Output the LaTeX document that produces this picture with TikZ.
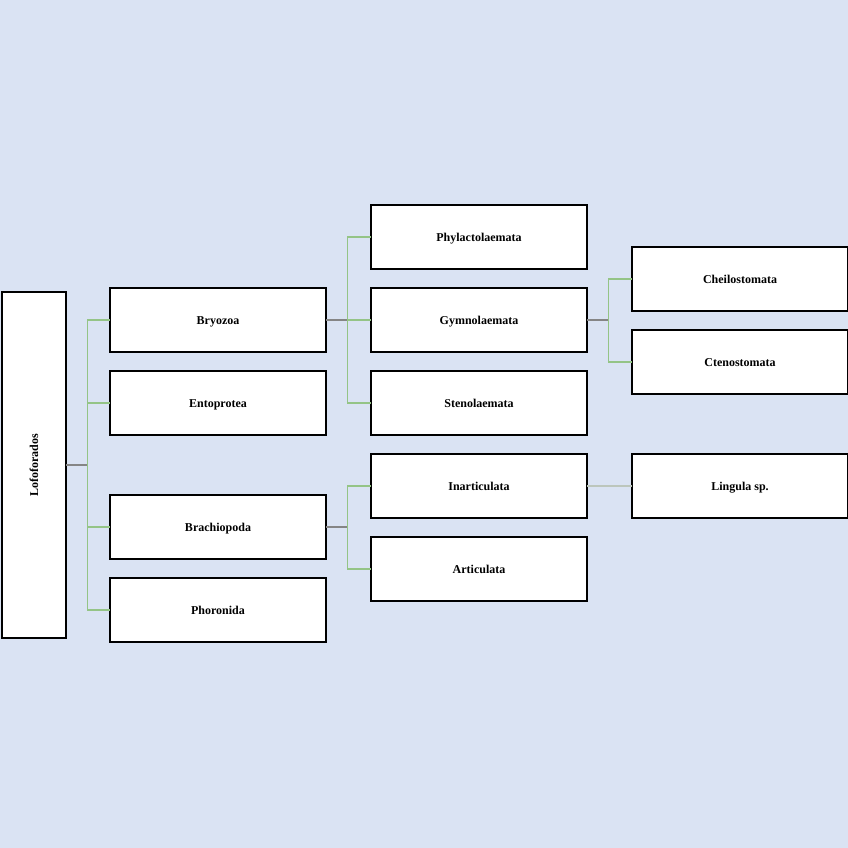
\documentclass[tikz,border=0pt]{standalone}
\usepackage{fontspec}
\setmainfont{Liberation Serif}
\usepackage{xcolor}
\usepackage{tikz}
\usetikzlibrary{positioning}
\definecolor{bgblue}{HTML}{DAE3F3}
\definecolor{lnkgreen}{HTML}{94C486}
\definecolor{lnkgrey}{HTML}{858585}
\definecolor{lnklight}{HTML}{BCC6BC}

\begin{document}
\begin{tikzpicture}[
  font=\bfseries\fontsize{12pt}{14pt}\selectfont,
  frame/.style={draw=black, line width=1.8pt, fill=white, inner sep=0pt, outer sep=0pt, align=center},
  box/.style={frame, minimum width=216.2pt, minimum height=64.2pt, text height=8pt, text depth=0pt},
  rootbox/.style={frame, minimum width=64.2pt, minimum height=346.2pt},
  stub/.style={draw=lnkgrey, line width=1.1pt},
  branch/.style={draw=lnkgreen, line width=1.1pt},
  plain/.style={draw=lnklight, line width=1.5pt},
]
\fill[bgblue] (0pt,0pt) rectangle (848pt,-848pt);
\useasboundingbox (0pt,0pt) rectangle (848pt,-848pt);
% level 0
\node[rootbox] (lofo) at (34pt,-465pt) {\rotatebox{90}{Lofoforados}};
% level 1
\node[box, right=43.8pt of lofo, yshift=145pt] (bry) {Bryozoa};
\node[box, below=18.8pt of bry] (ent) {Entoprotea};
\node[box, below=59.8pt of ent] (bra) {Brachiopoda};
\node[box, below=18.8pt of bra] (pho) {Phoronida};
% level 2
\node[box, right=44.8pt of bry] (gym) {Gymnolaemata};
\node[box, above=18.8pt of gym] (phy) {Phylactolaemata};
\node[box, below=18.8pt of gym] (ste) {Stenolaemata};
\node[box, right=44.8pt of bra, yshift=41pt] (ina) {Inarticulata};
\node[box, below=18.8pt of ina] (art) {Articulata};
% level 3
\node[box, right=44.8pt of gym, yshift=41pt] (che) {Cheilostomata};
\node[box, below=18.8pt of che] (cte) {Ctenostomata};
\node[box, right=44.8pt of ina] (lin) {Lingula sp.};
% connectors
\draw[stub] (lofo.east) -- ++(21pt,0) coordinate (j0);
\foreach \c in {bry,ent,bra,pho} \draw[branch] (\c.west) -| (j0);
\draw[stub] (bry.east) -- ++(21pt,0) coordinate (j1);
\foreach \c in {phy,gym,ste} \draw[branch] (\c.west) -| (j1);
\draw[stub] (bra.east) -- ++(21pt,0) coordinate (j2);
\foreach \c in {ina,art} \draw[branch] (\c.west) -| (j2);
\draw[stub] (gym.east) -- ++(21pt,0) coordinate (j3);
\foreach \c in {che,cte} \draw[branch] (\c.west) -| (j3);
\draw[plain] (ina) -- (lin);
\end{tikzpicture}
\end{document}
